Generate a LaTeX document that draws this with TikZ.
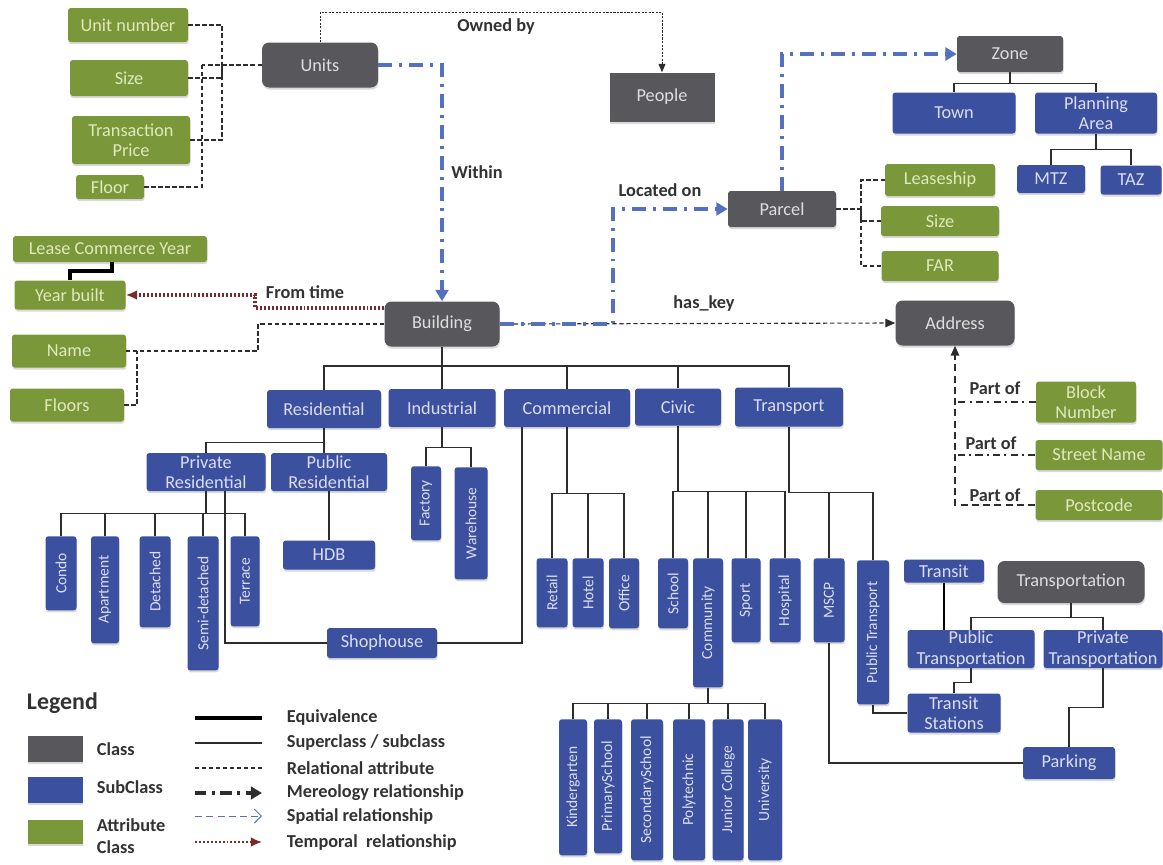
\documentclass[tikz,border=0pt]{standalone}
\usepackage{fontspec}
\setmainfont{Carlito}
\usetikzlibrary{arrows.meta,shadows}
\definecolor{classgray}{RGB}{88,88,92}
\definecolor{subblue}{RGB}{60,80,160}
\definecolor{attrgreen}{RGB}{122,152,58}
\definecolor{classtext}{RGB}{222,222,222}
\definecolor{subtext}{RGB}{218,222,240}
\definecolor{attrtext}{RGB}{224,232,188}
\definecolor{linegray}{RGB}{45,45,45}
\definecolor{merblue}{RGB}{84,112,190}
\definecolor{tempred}{RGB}{118,42,42}
\definecolor{labelgray}{RGB}{50,50,50}
\begin{document}
\begin{tikzpicture}[x=0.025cm,y=-0.025cm,
  box/.style={rounded corners=2pt, inner sep=0.5pt, align=center, font=\fontsize{13}{14.5}\selectfont,
    drop shadow={shadow xshift=0.4pt, shadow yshift=-1.5pt, opacity=0.3}},
  sz/.style 2 args={minimum width=#1*0.025cm, minimum height=#2*0.025cm},
  cls/.style={box, fill=classgray, text=classtext},
  sub/.style={box, fill=subblue, text=subtext},
  att/.style={box, fill=attrgreen, text=attrtext},
  vsub/.style={sub, anchor=north, font=\fontsize{11}{12}\selectfont},
  sup/.style={draw=linegray, line width=0.8pt},
  equiv/.style={draw=black, line width=2.4pt},
  rel/.style={draw=linegray, line width=0.8pt, dash pattern=on 3pt off 2pt},
  own/.style={draw=linegray, line width=0.7pt, dash pattern=on 1.5pt off 1pt, -{Triangle[length=6pt,width=5pt]}},
  mer/.style={draw=merblue, line width=2.8pt, dash pattern=on 10pt off 5pt on 2pt off 5pt, -{Triangle[length=8pt,width=9pt]}},
  partof/.style={draw=linegray, line width=1.1pt, dash pattern=on 5pt off 3pt on 1.5pt off 3pt},
  temp/.style={draw=tempred, line width=2.2pt, dash pattern=on 1.4pt off 1.4pt, -{Latex[length=8pt,width=7pt]}},
  lbl/.style={text=labelgray, font=\fontsize{13}{14}\bfseries}]
\useasboundingbox (0,0) rectangle (1163,864);

% classes and attributes, top part
\node[cls, sz={116}{45}, rounded corners=5pt] (units) at (320,65) {Units};
\node[att, sz={120}{34}] (unitno) at (128,25) {Unit number};
\node[att, sz={118}{36}] (usize) at (129,78) {Size};
\node[att, sz={118}{48}] (tprice) at (131,140) {Transaction\\Price};
\node[att, sz={68}{24}] (floor) at (110,187) {Floor};
\node[cls, sz={105}{49}, sharp corners] (people) at (662,97) {People};
\node[cls, sz={106}{36}] (zone) at (1010,54) {Zone};
\node[sub, sz={123}{41}] (town) at (954,113) {Town};
\node[sub, sz={122}{41}] (parea) at (1096,113) {Planning\\Area};
\node[sub, sz={68}{28}] (mtz) at (1051,179) {MTZ};
\node[sub, sz={61}{29}] (taz) at (1131,180) {TAZ};
\node[cls, sz={108}{36}] (parcel) at (782,209) {Parcel};
\node[att, sz={110}{32}] (lease) at (940,180) {Leaseship};
\node[att, sz={118}{30}] (psize) at (940,221) {Size};
\node[att, sz={117}{30}] (far) at (940,266) {FAR};
\node[att, sz={194}{26}] (lcy) at (110,249) {Lease Commerce Year};
\node[att, sz={111}{29}] (ybuilt) at (70,295) {Year built};
\node[att, sz={114}{33}] (bname) at (69,351) {Name};
\node[att, sz={114}{33}] (floors) at (67,405) {Floors};
\node[cls, sz={115}{45}, rounded corners=5pt] (building) at (442,324) {Building};
\node[cls, sz={119}{45}, rounded corners=5pt] (address) at (955,323) {Address};
\node[att, sz={100}{41}] (blockno) at (1086,402) {Block\\Number};
\node[att, sz={127}{30}] (street) at (1099,455) {Street Name};
\node[att, sz={127}{30}] (postcode) at (1099,505) {Postcode};

% building subclasses
\node[sub, sz={114}{38}] (resi) at (324,409) {Residential};
\node[sub, sz={107}{38}] (indu) at (442,408) {Industrial};
\node[sub, sz={126}{38}] (comm) at (567,408) {Commercial};
\node[sub, sz={86}{37}] (civic) at (678,407) {Civic};
\node[sub, sz={108}{39}] (trans) at (789,407) {Transport};
\node[sub, sz={119}{38}] (prires) at (206,472) {Private\\Residential};
\node[sub, sz={116}{38}] (pubres) at (329,472) {Public\\Residential};
\node[sub, sz={92}{29}] (hdb) at (329,555) {HDB};
\node[sub, sz={110}{30}] (shop) at (382,643) {Shophouse};
\foreach \nm/\x/\w/\h/\txt in {condo/61/31/74/Condo, apart/105/28/107/Apartment, detach/155/31/91/Detached,
    semi/203/31/134/Semi-detached, terrace/245/29/90/Terrace}
  \node[vsub, sz={\w}{\h}] (\nm) at (\x,536) {\rotatebox{90}{\txt}};
\node[vsub, sz={30}{74}] (factory) at (426,466) {\rotatebox{90}{Factory}};
\node[vsub, sz={33}{112}] (wareh) at (471,467) {\rotatebox{90}{Warehouse}};
\foreach \nm/\x/\w/\h/\txt in {retail/552/31/69/Retail, hotel/588/31/69/Hotel, office/624/30/70/Office,
    school/673/30/70/School, commu/708/30/129/Community, sport/746/29/84/Sport, hospital/785/31/84/Hospital,
    mscp/829/31/84/MSCP}
  \node[vsub, sz={\w}{\h}] (\nm) at (\x,558) {\rotatebox{90}{\txt}};
\node[vsub, sz={32}{144}] (ptrans) at (873,560) {\rotatebox{90}{Public Transport}};
\foreach \nm/\x/\w/\h/\txt in {kinder/573/28/136/Kindergarten, primary/608/28/134/PrimarySchool,
    second/647/32/141/SecondarySchool, poly/689/32/141/Polytechnic, junior/728/31/141/Junior College,
    univ/765/34/141/University}
  \node[vsub, sz={\w}{\h}] (\nm) at (\x,719) {\rotatebox{90}{\txt}};

% transportation
\node[sub, sz={80}{23}] (transit) at (944,571) {Transit};
\node[cls, sz={147}{42}, rounded corners=5pt] (tportation) at (1071,582) {Transportation};
\node[sub, sz={127}{38}] (pubtp) at (971,649) {Public\\Transportation};
\node[sub, sz={119}{38}] (pritp) at (1103,649) {Private\\Transportation};
\node[sub, sz={93}{39}] (tstations) at (954,713) {Transit\\Stations};
\node[sub, sz={92}{32}] (parking) at (1069,763) {Parking};

% relational attributes
\coordinate (ua) at (222,65);
\coordinate (ub) at (202,65);
\draw[rel] (units.west) -- (ub);
\draw[rel] (unitno.east) -| (ua);
\draw[rel] (usize.east) -| (ua);
\draw[rel] (tprice.east) -| (ua);
\draw[rel] (floor.east) -| (ub);
\coordinate (pa) at (861,209);
\draw[rel] (parcel.east) -- (pa);
\foreach \k in {lease,psize,far} \draw[rel] (\k.west) -| (pa);
\coordinate (bn) at (137,351);
\draw[rel] (building.west) -| (258,351) -- (bname.east);
\draw[rel] (floors.east) -| (bn);
\draw[rel, -{Triangle[length=7pt,width=6pt]}] (building.east) -- (address.west);
\draw[own] (units.north) -- ++(0,-30) -| (people.north);

% mereology, spatial and temporal links
\draw[mer] (units.east) -| (building.north);
\coordinate (loc) at (613,209);
\draw[mer] (building.east) -| (loc) -- (parcel.west);
\draw[mer] (parcel.north) |- (zone.west);
\draw[temp] (building.west |- 0,308) -| (255,295) -- (ybuilt.east);
\coordinate (eq) at (112,271);
\draw[equiv] (ybuilt.north) |- (eq) -- (eq |- lcy.south);
\draw[partof] (blockno.west) -- (blockno.west -| address.south);
\draw[partof] (street.west) -- (street.west -| address.south);
\draw[partof, dash pattern=on 5pt off 3pt, -{Triangle[length=7pt,width=6pt]}] (postcode.west) -| (address.south);

% labels
\node[lbl] (lowned) at (496,27) {Owned by};
\node[lbl] (lwithin) at (477,172) {Within};
\node[lbl] (lloc) at (660,190) {Located on};
\node[lbl] (lkey) at (704,304) {has\_key};
\node[lbl] (ltime) at (305,292) {From time};
\node[lbl] (lpart1) at (995,388) {Part of};
\node[lbl] (lpart2) at (991,443) {Part of};
\node[lbl] (lpart3) at (995,495) {Part of};

% superclass / subclass trees
\draw[sup] (zone.south) -- ++(0,11) -| (town.north);
\draw[sup] (zone.south) -- ++(0,11) -| (parea.north);
\draw[sup] (parea.south) -- ++(0,16) -| (mtz.north);
\draw[sup] (parea.south) -- ++(0,16) -| (taz.north);
\coordinate (bb) at (442,366);
\draw[sup] (building.south) -- (indu.north);
\draw[sup] (resi.north) |- (bb);
\foreach \k in {comm,civic,trans} \draw[sup] (bb) -| (\k.north);
\draw[sup] (resi.south) -- (resi.south |- pubres.north);
\draw[sup] (resi.south) -- ++(0,14) -| (prires.north);
\draw[sup] (pubres.south) -- (hdb.north);
\foreach \k in {condo,apart,detach,semi,terrace} \draw[sup] (prires.south) -- ++(0,22) -| (\k.north);
\draw[sup] (prires.south -| 225,0) |- (shop.west);
\draw[sup] (shop.east) -| (comm.south -| 522,0);
\foreach \k in {factory,wareh} \draw[sup] (indu.south) -- ++(0,20) -| (\k.north);
\foreach \k in {retail,hotel,office} \draw[sup] (comm.south) -- ++(0,66) -| (\k.north);
\foreach \k in {school,commu,sport,hospital} \draw[sup] (civic.south) -- ++(0,66) -| (\k.north);
\foreach \k in {mscp,ptrans} \draw[sup] (trans.south) -- ++(0,66) -| (\k.north);
\foreach \k in {kinder,primary,second,poly,junior,univ} \draw[sup] (commu.south) -- ++(0,16) -| (\k.north);
\draw[equiv, line width=2pt] (transit.south) -- (transit.south |- pubtp.north);
\draw[sup] (tportation.south) -- ++(0,14) -| (pubtp.north);
\draw[sup] (tportation.south) -- ++(0,14) -| (pritp.north);
\draw[sup] (pubtp.south) -- ++(0,14) -| (tstations.north);
\draw[sup] (ptrans.south) |- (tstations.west);
\draw[sup] (pritp.south) -- ++(0,39) -| (parking.north);
\draw[sup] (mscp.south) |- (parking.west);

% legend
\node[anchor=west, text=labelgray, font=\fontsize{17}{18}\bfseries] (legend) at (22,703) {Legend};
\node[cls, sz={55}{26}, sharp corners] (lgclass) at (55,749) {};
\node[sub, sz={55}{26}, sharp corners] (lgsub) at (55,790) {};
\node[att, sz={55}{24}, sharp corners] (lgatt) at (55,832) {};
\node[lbl, anchor=west, font=\fontsize{13}{15}\bfseries] (tclass) at (92,749) {Class};
\node[lbl, anchor=west, font=\fontsize{13}{15}\bfseries] (tsub) at (92,787) {SubClass};
\node[lbl, anchor=west, align=left, font=\fontsize{13}{16}\bfseries] (tatt) at (92,836) {Attribute\\Class};
\foreach \n/\y/\txt in {1/718/Equivalence, 2/743/{Superclass / subclass}, 3/768/Relational attribute,
    4/793/Mereology relationship, 5/816/Spatial relationship, 6/842/Temporal\ \ relationship} {
  \coordinate (la\n) at (195,\y);
  \coordinate (lb\n) at (262,\y);
  \node[lbl, anchor=west] (lt\n) at (282,\y) {\txt};
}
\draw[equiv] (la1) -- (lb1);
\draw[sup] (la2) -- (lb2);
\draw[rel] (la3) -- (lb3);
\draw[mer, draw=linegray, line width=2.2pt, dash pattern=on 8pt off 4pt on 2pt off 4pt] (la4) -- (lb4);
\draw[draw=merblue, line width=0.7pt, dash pattern=on 5pt off 3pt, -{Straight Barb[length=5pt]}] (la5) -- (lb5);
\draw[temp, line width=1.4pt] (la6) -- (lb6);
\end{tikzpicture}
\end{document}
